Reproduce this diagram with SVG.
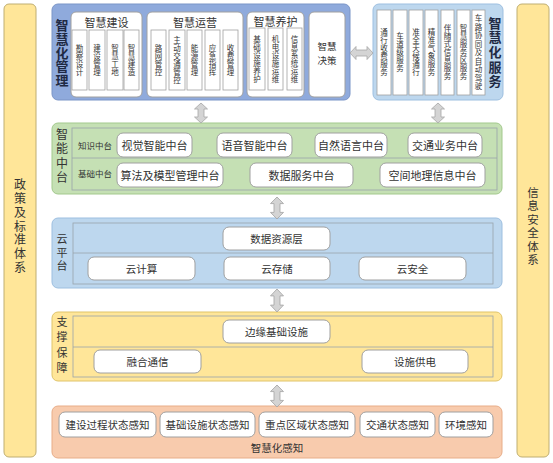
<svg xmlns="http://www.w3.org/2000/svg" width="553" height="463" viewBox="0 0 553 463">
<style>
text{font-family:"Noto Sans CJK SC","Noto Sans",sans-serif;fill:#333;dominant-baseline:central;text-anchor:middle}
.v{writing-mode:vertical-rl;text-orientation:upright}
.side{fill:#ffe699;stroke:#bfae72;stroke-width:1}
.wb{fill:#fff;stroke:#a0a0a0;stroke-width:1}
.col{fill:#fff;stroke:#a0a0a0;stroke-width:0.8}
.inner{fill:none;stroke:#9aa3ab;stroke-width:0.8}
.t7{font-size:7.5px;letter-spacing:0.5px}
.t7s{font-size:7.5px;letter-spacing:1px}
.t85{font-size:8.5px}
.t10{font-size:10.5px}
.t11{font-size:11px}
.big{font-size:13px;font-weight:bold;fill:#1f2a44}
.arr{fill:#d4d4d4;stroke:#a6a6a6;stroke-width:0.8}
</style>
<defs>
<path id="dv" d="M0,0 L6.5,6 L3,6 L3,14 L6.5,14 L0,20 L-6.5,14 L-3,14 L-3,6 L-6.5,6 Z"/>
</defs>

<g id="policy">
<rect class="side" x="4" y="4" width="32" height="453" rx="5"/>
<text class="v" x="20" y="227" style="font-size:12px;letter-spacing:1.8px">政策及标准体系</text>
</g>

<g id="security">
<rect class="side" x="517" y="4" width="32" height="453" rx="5"/>
<text class="v" x="533" y="227" style="font-size:11.5px;letter-spacing:1.9px">信息安全体系</text>
</g>

<g id="management">
<rect x="52" y="4" width="298" height="96" rx="6" fill="#8faadc" stroke="#7b95c7"/>
<text class="v big" x="62" y="53" style="letter-spacing:0.8px">智慧化管理</text>
<g id="construction">
<rect class="wb" x="71" y="12" width="71" height="85" rx="5"/>
<text class="t11" x="106.5" y="22">智慧建设</text>
<rect class="col" x="72" y="30" width="15" height="60"/>
<rect class="col" x="89" y="30" width="16" height="60"/>
<rect class="col" x="107" y="30" width="16" height="60"/>
<rect class="col" x="124" y="30" width="15" height="60"/>
<text class="v t7" x="79.5" y="60">勘察设计</text>
<text class="v t7" x="97" y="60">建设管理</text>
<text class="v t7" x="115" y="60">智慧工地</text>
<text class="v t7" x="131.5" y="60">智慧建造</text>
</g>
<g id="operation">
<rect class="wb" x="147" y="12" width="96" height="85" rx="5"/>
<text class="t11" x="195" y="22">智慧运营</text>
<rect class="col" x="151" y="30" width="15" height="60"/>
<rect class="col" x="169" y="30" width="16" height="60"/>
<rect class="col" x="187" y="30" width="15" height="60"/>
<rect class="col" x="205" y="30" width="15" height="60"/>
<rect class="col" x="223" y="30" width="15" height="60"/>
<text class="v t7" x="158.5" y="60">路网管控</text>
<text class="v t7" x="177" y="60">主动交通管控</text>
<text class="v t7" x="194.5" y="60">能源管理</text>
<text class="v t7" x="212.5" y="60">应急指挥</text>
<text class="v t7" x="230.5" y="60">收费管理</text>
</g>
<g id="maintenance">
<rect class="wb" x="247" y="12" width="57" height="85" rx="5"/>
<text class="t11" x="275.5" y="21">智慧养护</text>
<rect class="col" x="249" y="28" width="16" height="62"/>
<rect class="col" x="268" y="28" width="15" height="62"/>
<rect class="col" x="287" y="28" width="15" height="62"/>
<text class="v t7" x="257" y="59">基础设施养护</text>
<text class="v t7" x="275.5" y="59">机电设施运维</text>
<text class="v t7" x="294.5" y="59">信息系统运维</text>
</g>
<g id="decision">
<rect class="wb" x="309" y="12" width="36" height="85" rx="5"/>
<text style="font-size:9.5px"><tspan x="327" y="45.5">智慧</tspan><tspan x="327" y="59.5">决策</tspan></text>
</g>
</g>

<g id="service">
<rect x="373" y="4" width="130" height="96" rx="6" fill="#bdd7ee" stroke="#9dbfe0"/>
<rect class="col" x="377" y="10" width="14" height="85"/>
<rect class="col" x="393" y="10" width="14" height="85"/>
<rect class="col" x="409" y="10" width="14" height="85"/>
<rect class="col" x="425" y="10" width="13" height="85"/>
<rect class="col" x="441" y="10" width="13" height="85"/>
<rect class="col" x="457" y="10" width="13" height="85"/>
<rect class="col" x="472" y="10" width="13" height="85"/>
<text class="v t7" x="384" y="52">通行收费服务</text>
<text class="v t7" x="400" y="52">车道级服务</text>
<text class="v t7" x="416" y="52">准全天候通行</text>
<text class="v t7" x="431.5" y="52">精准气象服务</text>
<text class="v t7" x="447.5" y="52">伴随式信息服务</text>
<text class="v t7" x="463.5" y="52">智慧服务区服务</text>
<text class="v t7s" x="478.5" y="53">车路协同及自动驾驶</text>
<text class="v big" x="495" y="53" style="letter-spacing:1.7px">智慧化服务</text>
</g>

<g id="ai-platform">
<rect x="52" y="123" width="450" height="71" rx="6" fill="#c5e0b4" stroke="#a3c98d"/>
<rect class="inner" x="72" y="128" width="425" height="62"/>
<line class="inner" x1="72" y1="158" x2="497" y2="158"/>
<text class="v" x="62" y="157" style="font-size:12px;letter-spacing:2.3px">智能中台</text>
<text class="t85" x="95" y="145">知识中台</text>
<text class="t85" x="95" y="173">基础中台</text>
<rect class="wb" x="117" y="133" width="75" height="24" rx="6"/><text class="t11" x="154.5" y="145">视觉智能中台</text>
<rect class="wb" x="217" y="133" width="75" height="24" rx="6"/><text class="t11" x="254.5" y="145">语音智能中台</text>
<rect class="wb" x="315" y="133" width="72" height="24" rx="6"/><text class="t11" x="351" y="145">自然语言中台</text>
<rect class="wb" x="408" y="133" width="74" height="24" rx="6"/><text class="t11" x="445" y="145">交通业务中台</text>
<rect class="wb" x="117" y="163" width="106" height="24" rx="6"/><text class="t11" x="170" y="175">算法及模型管理中台</text>
<rect class="wb" x="250" y="163" width="103" height="24" rx="6"/><text class="t11" x="301.5" y="175">数据服务中台</text>
<rect class="wb" x="380" y="163" width="105" height="24" rx="6"/><text class="t11" x="432.5" y="175">空间地理信息中台</text>
</g>

<g id="cloud">
<rect x="52" y="218" width="450" height="70" rx="6" fill="#bdd7ee" stroke="#9dbfe0"/>
<rect class="inner" x="73" y="223" width="420" height="61"/>
<line class="inner" x1="73" y1="253" x2="493" y2="253"/>
<text class="v" x="62" y="254" style="font-size:11px;letter-spacing:2.5px">云平台</text>
<rect class="wb" x="223" y="227" width="107" height="23" rx="6"/><text class="t10" x="276.5" y="238.5">数据资源层</text>
<rect class="wb" x="88" y="257" width="107" height="23" rx="6"/><text class="t10" x="141.5" y="268.5">云计算</text>
<rect class="wb" x="224" y="257" width="106" height="23" rx="6"/><text class="t10" x="277" y="268.5">云存储</text>
<rect class="wb" x="359" y="257" width="107" height="23" rx="6"/><text class="t10" x="412.5" y="268.5">云安全</text>
</g>

<g id="support">
<rect x="52" y="312" width="450" height="69" rx="6" fill="#ffe699" stroke="#e0c46a"/>
<rect class="inner" x="73" y="316" width="420" height="61"/>
<line class="inner" x1="73" y1="347" x2="493" y2="347"/>
<text class="v" x="62" y="347" style="font-size:11px;letter-spacing:4.3px">支撑保障</text>
<rect class="wb" x="223" y="320" width="107" height="23" rx="6"/><text class="t10" x="276.5" y="331.5">边缘基础设施</text>
<rect class="wb" x="94" y="350" width="107" height="23" rx="6"/><text class="t10" x="147.5" y="361.5">融合通信</text>
<rect class="wb" x="362" y="350" width="106" height="23" rx="6"/><text class="t10" x="415" y="361.5">设施供电</text>
</g>

<g id="perception">
<rect x="52" y="406" width="450" height="52" rx="6" fill="#f8cbad" stroke="#e8ad88"/>
<rect class="wb" x="59" y="412" width="97" height="25" rx="6"/><text class="t10" x="107.5" y="424.5">建设过程状态感知</text>
<rect class="wb" x="160" y="412" width="95" height="25" rx="6"/><text class="t10" x="207.5" y="424.5">基础设施状态感知</text>
<rect class="wb" x="259" y="412" width="96" height="25" rx="6"/><text class="t10" x="307" y="424.5">重点区域状态感知</text>
<rect class="wb" x="360" y="412" width="75" height="25" rx="6"/><text class="t10" x="397.5" y="424.5">交通状态感知</text>
<rect class="wb" x="439" y="412" width="54" height="25" rx="6"/><text class="t10" x="466" y="424.5">环境感知</text>
<text class="t10" x="277" y="447">智慧化感知</text>
</g>

<g id="connectors">
<path class="arr" d="M350,53 L356,46.5 L356,50 L367,50 L367,46.5 L373,53 L367,59.5 L367,56 L356,56 L356,59.5 Z"/>
<use href="#dv" class="arr" transform="translate(201,103)"/>
<use href="#dv" class="arr" transform="translate(438,103)"/>
<use href="#dv" class="arr" transform="translate(277,197) scale(1,1.1)"/>
<use href="#dv" class="arr" transform="translate(277,289) scale(1,1.15)"/>
<use href="#dv" class="arr" transform="translate(277,385) scale(1,1.1)"/>
</g>
</svg>
